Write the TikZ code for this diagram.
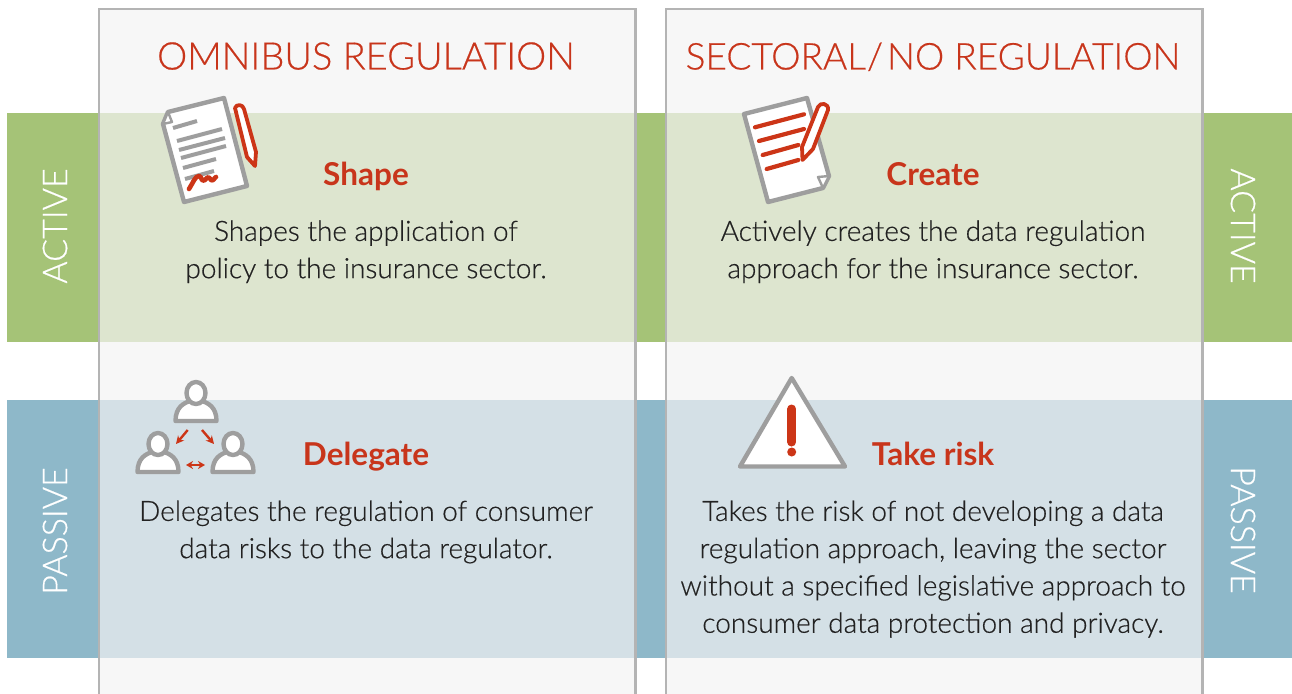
\documentclass[tikz,border=0pt]{standalone}
\usepackage{fontspec}
\setmainfont{Lato}
\newfontfamily\lightfont{Lato Light}[FakeBold=0.5]
\usetikzlibrary{arrows.meta}
\definecolor{hdred}{HTML}{C8351B}
\definecolor{iconred}{HTML}{CC3517}
\definecolor{icongrey}{HTML}{9E9E9E}
\definecolor{colgrey}{HTML}{B4B4B4}
\definecolor{colbg}{HTML}{F7F7F7}
\definecolor{gdark}{HTML}{A5C377}
\definecolor{glight}{HTML}{DDE5CF}
\definecolor{bdark}{HTML}{8EB8C9}
\definecolor{blight}{HTML}{D4E0E6}
\definecolor{txt}{HTML}{222222}
\tikzset{
  title/.style={font=\lightfont\fontsize{38}{40}\selectfont,text=hdred,inner sep=0pt,anchor=base},
  titleb/.style={title,font=\lightfont\fontsize{37}{40}\selectfont},
  head/.style={font=\fontsize{31.5}{32}\selectfont\bfseries,text=hdred,inner sep=0pt,anchor=base},
  body/.style={font=\lightfont\fontsize{28}{37.3}\selectfont,text=txt,inner sep=0pt,align=center,anchor=north},
  side/.style={font=\lightfont\fontsize{34}{36}\selectfont,text=white,inner sep=0pt},
  gicon/.style={draw=icongrey,line width=4.4pt,line join=round,line cap=round},
  ricon/.style={draw=iconred,line width=3.8pt,line join=round,line cap=round},
  rarrow/.style={draw=iconred,line width=2.4pt,-{Stealth[length=8pt,width=8pt]}},
  rarrow2/.style={draw=iconred,line width=2.4pt,{Stealth[length=7pt,width=8pt]}-{Stealth[length=7pt,width=8pt]}},
}
\newcommand{\personicon}[2]{%
  \begin{scope}[shift={(#1,#2)}]
    \draw[gicon,fill=white] (-20.5,0) .. controls (-20.5,-14) and (-12,-18) .. (-6,-20)
       -- (6,-20) .. controls (12,-18) and (20.5,-14) .. (20.5,0) -- cycle;
    \draw[gicon,fill=white] (0,-28) ellipse (9.5 and 11);
  \end{scope}}
\begin{document}
\begin{tikzpicture}[x=1pt,y=-1pt]
\useasboundingbox (0,0) rectangle (1292,693);
\fill[white] (0,0) rectangle (1292,693);
% columns
\fill[colbg] (99,9) rectangle (635.5,700);
\fill[colbg] (666,9) rectangle (1202.5,700);
% bands
\fill[gdark] (7,113) rectangle (1292,342);
\fill[bdark] (7,400) rectangle (1292,658);
\fill[glight] (99,113) rectangle (635.5,342);
\fill[glight] (666,113) rectangle (1202.5,342);
\fill[blight] (99,400) rectangle (635.5,658);
\fill[blight] (666,400) rectangle (1202.5,658);
% column borders
\draw[colgrey,line width=2.7pt] (99,700) -- (99,9) -- (635.5,9) -- (635.5,700);
\draw[colgrey,line width=2.7pt] (666,700) -- (666,9) -- (1202.5,9) -- (1202.5,700);
% titles
\node[title] (t1) at (366,69.5) {OMNIBUS REGULATION};
\node[titleb] (t2) at (933,69.5) {SECTORAL\kern1pt/\kern4pt NO REGULATION};
% side labels
\node[side,rotate=90] (s1) at (55,226) {ACTIVE};
\node[side,rotate=90] (s2) at (55,531) {PASSIVE};
\node[side,rotate=-90] (s3) at (1243,226) {ACTIVE};
\node[side,rotate=-90] (s4) at (1243,530) {PASSIVE};
% headings
\node[head] (h1) at (366,185) {Shape};
\node[head] (h2) at (933,185) {Create};
\node[head] (h3) at (366,465) {Delegate};
\node[head] (h4) at (933,465) {Take risk};
% bodies
\node[body] (b1) at (366,220.3) {Shapes the application of\\policy to the insurance sector.};
\node[body] (b2) at (933,220.3) {Actively creates the data regulation\\approach for the insurance sector.};
\node[body] (b3) at (366,500.3) {Delegates the regulation of consumer\\data risks to the data regulator.};
\node[body] (b4) at (933,500.3) {Takes the risk of not developing a data\\regulation approach, leaving the sector\\without a specified legislative approach to\\consumer data protection and privacy.};
% doc icon 1
\draw[gicon,fill=white] (168,112) -- (224,98) -- (247,186) -- (184,202) -- (163,124) -- cycle;
\draw[gicon,fill=white,line width=2.4pt] (168,112) -- (163,124) -- (172,122) -- cycle;
\begin{scope}[icongrey,line width=4pt]
\draw (173,128) -- (197,121);
\draw (177,141) -- (222,129);
\draw (179,150) -- (225,138);
\draw (181,158) -- (226,146);
\draw (183,168) -- (216,159);
\draw (185,179) -- (214,171);
\end{scope}
\draw[ricon,line width=4.6pt] (189,189) .. controls (193,183) and (195,176) .. (199,176) .. controls (202,176) and (201,183) .. (205,180) .. controls (208,176) and (209,177) .. (211,180) .. controls (213,182) and (215,177) .. (216,177);
\draw[ricon,fill=white] (235,108) .. controls (236,104) and (243,104) .. (244,109) -- (256,152) -- (255,166) -- (247,157) -- cycle;
% doc icon 2
\draw[gicon,fill=white] (744,114) -- (807,98) -- (829,176) -- (823,188) -- (768,202) -- cycle;
\draw[gicon,fill=white,line width=2.4pt] (829,176) -- (818,177) -- (823,188) -- cycle;
\begin{scope}[iconred,line width=4.2pt,line cap=round]
\draw (755,127.3) -- (804,114.3);
\draw (759,141) -- (804,129);
\draw (762.7,155) -- (798.3,145);
\draw (766.7,169) -- (798.3,160);
\end{scope}
\draw[ricon,fill=white] (818,107) .. controls (820,102) and (829,103) .. (828,110) -- (813,149) -- (802.5,160) -- (802,147) -- cycle;
% people icon
\personicon{196}{421}
\personicon{158}{472}
\personicon{233}{472}
\coordinate (a1s) at (187.7,430); \coordinate (a1e) at (176,444);
\coordinate (a2s) at (202,430); \coordinate (a2e) at (214,444);
\coordinate (a3s) at (186,465); \coordinate (a3e) at (205,465);
\draw[rarrow] (a1s) -- (a1e);
\draw[rarrow] (a2s) -- (a2e);
\draw[rarrow2] (a3s) -- (a3e);
% warning icon
\draw[gicon,fill=white] (791.7,378) -- (845,466.5) -- (740,466.5) -- cycle;
\draw[iconred,line width=9pt,line cap=round] (791.7,409) -- (791.7,442);
\fill[iconred] (791.7,452) circle (4.5);
\end{tikzpicture}
\end{document}
